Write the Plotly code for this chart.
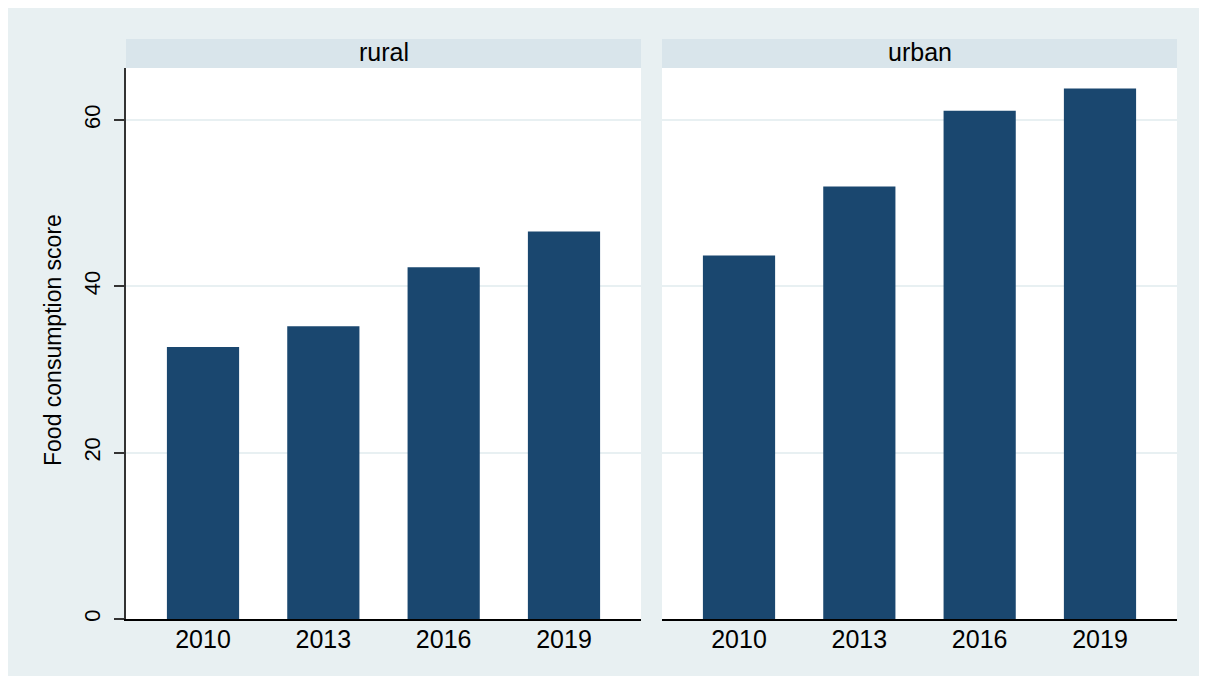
import plotly.graph_objects as go

years = ["2010", "2013", "2016", "2019"]
rural = [32.7, 35.2, 42.3, 46.6]
urban = [43.7, 52.0, 61.1, 63.8]
panels = ["rural", "urban"]
y_title = "Food consumption score"
y_ticks = [0, 20, 40, 60]

# page offset (body margin) in screenshot
OFF = 8
W, H = 1207 - OFF, 676 - OFF
# plot area in screenshot pixels: x 126..1177, y 68..619
ML, MR, MT, MB = 126 - OFF, 1207 - 1177, 68 - OFF, 676 - 619
PW = W - ML - MR
PH = H - MT - MB

def px_x(p):  # screenshot px -> paper
    return (p - OFF - ML) / PW

def px_y(p):
    return (H - MB - (p - OFF)) / PH

BAR = "#1A476F"
OUTER = "#E8F0F2"
STRIP = "#D9E5EB"
GRID = "#E8F0F2"
FONT = "Liberation Sans, Arial, sans-serif"

fig = go.Figure()
fig.add_trace(go.Bar(x=years, y=rural, marker=dict(color=BAR, line=dict(width=0)),
                     width=0.6, xaxis="x", yaxis="y", showlegend=False))
fig.add_trace(go.Bar(x=years, y=urban, marker=dict(color=BAR, line=dict(width=0)),
                     width=0.6, xaxis="x2", yaxis="y2", showlegend=False))

d1 = [0, px_x(641)]
d2 = [px_x(662), 1]
yr = [0, (619 - 68) / ((619 - 120) / 60)]

xcommon = dict(type="category", range=[-0.64, 3.64], showline=True, linecolor="#000000",
               linewidth=1.5, ticks="", showgrid=False, zeroline=False,
               tickfont=dict(family=FONT, size=25, color="#000000"), ticklabelstandoff=-3)
fig.update_layout(
    xaxis=dict(domain=d1, anchor="y", **xcommon),
    xaxis2=dict(domain=d2, anchor="y2", **xcommon),
    yaxis=dict(domain=[0, 1], anchor="x", range=yr, tickvals=y_ticks, ticktext=[str(v) for v in y_ticks],
               showline=True, linecolor="#333333", linewidth=1.5, ticks="outside", ticklen=10,
               tickcolor="#333333", tickwidth=1.5, tickangle=-90, showgrid=True, gridcolor=GRID,
               gridwidth=1.5, zeroline=False, tickfont=dict(family=FONT, size=22, color="#000000"),
               ticklabelstandoff=5),
    yaxis2=dict(domain=[0, 1], anchor="x2", range=yr, tickvals=y_ticks, showticklabels=False,
                showline=False, ticks="", showgrid=True, gridcolor=GRID, gridwidth=1.5,
                zeroline=False, matches="y"),
    width=W, height=H,
    margin=dict(l=ML, r=MR, t=MT, b=MB, pad=0),
    paper_bgcolor=OUTER,
    plot_bgcolor="rgba(0,0,0,0)",
    bargap=0.4,
)

shapes = []
for d in (d1, d2):
    shapes.append(dict(type="rect", xref="paper", yref="paper", layer="below",
                       x0=d[0], x1=d[1], y0=0, y1=1, fillcolor="#FFFFFF", line=dict(width=0)))
    shapes.append(dict(type="rect", xref="paper", yref="paper", layer="below",
                       x0=d[0], x1=d[1], y0=1, y1=px_y(39), fillcolor=STRIP, line=dict(width=0)))
fig.update_layout(shapes=shapes)

annotations = []
for name, d in zip(panels, (d1, d2)):
    annotations.append(dict(text=name, xref="paper", yref="paper", x=(d[0] + d[1]) / 2,
                            y=px_y(52), xanchor="center", yanchor="middle", showarrow=False,
                            font=dict(family=FONT, size=25, color="#000000")))
annotations.append(dict(text=y_title, xref="paper", yref="paper", x=px_x(53), y=px_y(340),
                        xanchor="center", yanchor="middle", textangle=-90, showarrow=False,
                        font=dict(family=FONT, size=23, color="#000000")))
fig.update_layout(annotations=annotations)

fig.write_html("out.html")
